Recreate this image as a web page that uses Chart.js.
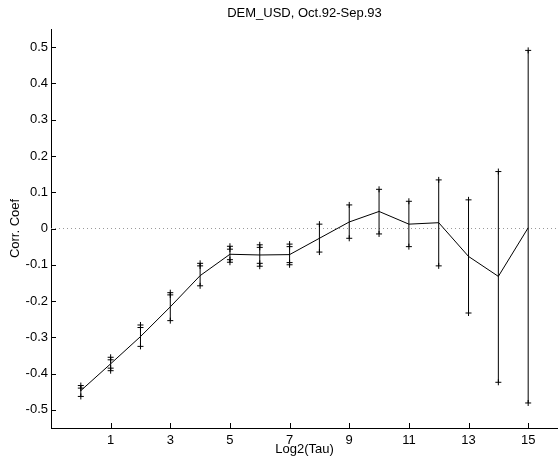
<!DOCTYPE html>
<html>
<head>
<meta charset="utf-8">
<script src="https://cdn.jsdelivr.net/npm/chart.js@4.4.1/dist/chart.umd.min.js"></script>
<style>
  body { margin: 0; background: #fff; }
  canvas { display: block; }
</style>
</head>
<body>
<canvas id="chart" width="558" height="461"></canvas>
<script>
// log2(tau) positions and correlation coefficient with its error bar ends
const tauLog2 = [0, 1, 2, 3, 4, 5, 6, 7, 8, 9, 10, 11, 12, 13, 14, 15];
const corrCoef = [-0.447, -0.373, -0.298, -0.216, -0.130, -0.071, -0.073, -0.072, -0.027, 0.018, 0.047, 0.012, 0.016, -0.077, -0.132, 0.002];
const upperBound = [-0.433, -0.355, -0.266, -0.177, -0.096, -0.049, -0.045, -0.043, 0.012, 0.065, 0.108, 0.075, 0.134, 0.079, 0.157, 0.491];
const lowerBound = [-0.463, -0.392, -0.325, -0.254, -0.158, -0.093, -0.104, -0.100, -0.065, -0.027, -0.015, -0.050, -0.103, -0.233, -0.424, -0.481];
// second set of bar ends (the doubled "+" marks on the short bars)
const innerX = [0, 1, 1, 2, 3, 4, 5, 5, 6, 6, 7, 7];
const innerY = [-0.440, -0.362, -0.385, -0.273, -0.183, -0.103, -0.057, -0.086, -0.052, -0.096, -0.050, -0.094];

const xTicks = [1, 3, 5, 7, 9, 11, 13, 15];
const yTicks = [-0.5, -0.4, -0.3, -0.2, -0.1, 0, 0.1, 0.2, 0.3, 0.4, 0.5];
const xRange = [-1, 16];
const yRange = [-0.55, 0.55];

const FONT = "'Liberation Sans', Arial, Helvetica, sans-serif";

// matlab style ticks, pointing into the plot
const inwardTicks = {
    id: 'inwardTicks',
    afterDatasetsDraw: (chart) => {
        const ctx = chart.ctx;
        const area = chart.chartArea;
        const xs = chart.scales.x;
        const ys = chart.scales.y;
        ctx.save();
        ctx.strokeStyle = '#000';
        ctx.lineWidth = 1;
        ctx.beginPath();
        xTicks.forEach((v) => {
            const px = Math.round(xs.getPixelForValue(v)) + 0.5;
            ctx.moveTo(px, area.bottom);
            ctx.lineTo(px, area.bottom - 5);
        });
        yTicks.forEach((v) => {
            const py = Math.round(ys.getPixelForValue(v)) + 0.5;
            ctx.moveTo(area.left, py);
            ctx.lineTo(area.left + 5, py);
        });
        ctx.stroke();
        ctx.restore();
    }
};

const errorBars = tauLog2.map((x, i) => ({
    type: 'line',
    data: [{ x: x, y: lowerBound[i] }, { x: x, y: upperBound[i] }],
    borderColor: '#000',
    borderWidth: 1,
    pointStyle: 'cross',
    pointRadius: 3,
    pointBorderColor: '#000',
    pointBorderWidth: 1,
    order: 2
}));

const config = {
    type: 'line',
    data: {
        datasets: [
            {
                data: tauLog2.map((x, i) => ({ x: x, y: corrCoef[i] })),
                borderColor: '#000',
                borderWidth: 1,
                pointRadius: 0,
                tension: 0,
                order: 1
            },
            {
                type: 'scatter',
                data: innerX.map((x, i) => ({ x: x, y: innerY[i] })),
                pointStyle: 'cross',
                pointRadius: 3,
                borderColor: '#000',
                pointBorderWidth: 1,
                order: 2
            },
            ...errorBars,
            {
                data: [{ x: xRange[0], y: 0 }, { x: xRange[1], y: 0 }],
                borderColor: '#9a9a9a',
                borderWidth: 1,
                borderDash: [1, 3],
                pointRadius: 0,
                order: 10
            }
        ]
    },
    options: {
        responsive: false,
        animation: false,
        devicePixelRatio: 1,
        layout: { autoPadding: false, padding: 0 },
        plugins: {
            legend: { display: false },
            tooltip: { enabled: false },
            title: {
                display: true,
                text: 'DEM_USD, Oct.92-Sep.93',
                fullSize: false,
                color: '#000',
                font: { family: FONT, size: 13, weight: 'normal' },
                padding: { top: 6, bottom: 7.4 }
            }
        },
        scales: {
            x: {
                type: 'linear',
                min: xRange[0],
                max: xRange[1],
                afterBuildTicks: (scale) => { scale.ticks = xTicks.map((v) => ({ value: v })); },
                afterFit: (scale) => { scale.height = 33; },
                grid: { display: true, drawOnChartArea: false, drawTicks: false },
                border: { display: true, color: '#000', width: 1 },
                ticks: {
                    color: '#000',
                    padding: 5,
                    maxRotation: 0,
                    font: { family: FONT, size: 13 },
                    callback: (v) => String(v)
                },
                title: {
                    display: true,
                    text: 'Log2(Tau)',
                    color: '#000',
                    font: { family: FONT, size: 13 },
                    padding: { top: 0, bottom: 4 }
                }
            },
            y: {
                type: 'linear',
                min: yRange[0],
                max: yRange[1],
                afterBuildTicks: (scale) => { scale.ticks = yTicks.map((v) => ({ value: v })); },
                afterFit: (scale) => { scale.width = 51; },
                grid: { display: true, drawOnChartArea: false, drawTicks: false },
                border: { display: true, color: '#000', width: 1 },
                ticks: {
                    color: '#000',
                    padding: 3,
                    font: { family: FONT, size: 13 },
                    callback: (v) => String(Number(v.toFixed(1)))
                },
                title: {
                    display: true,
                    text: 'Corr. Coef',
                    color: '#000',
                    font: { family: FONT, size: 13 },
                    padding: { top: 8, bottom: 0 }
                }
            }
        }
    },
    plugins: [inwardTicks]
};

new Chart(document.getElementById('chart'), config);
</script>
</body>
</html>
